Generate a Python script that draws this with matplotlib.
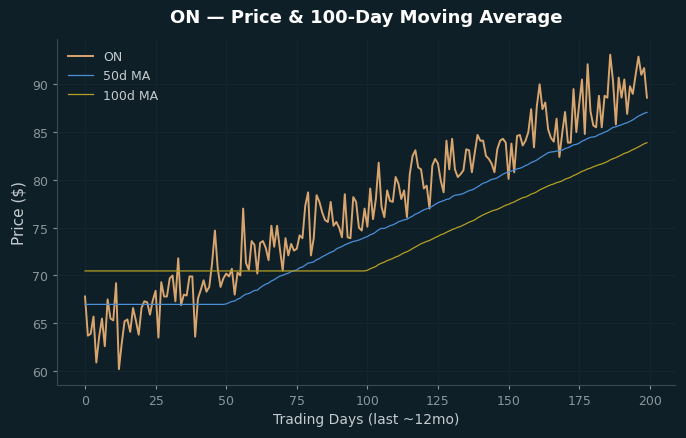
import numpy as np
import pandas as pd
from matplotlib import pyplot as plt

"""Data (read off the reference)
"""
TICKER = 'ON'
price = [
    67.8, 63.7, 63.9, 65.7, 60.9, 63.6, 65.5, 62.6, 67.5, 65.5,
    65.3, 69.2, 60.2, 62.9, 65.2, 65.4, 64.1, 66.6, 65.3, 63.8,
    66.6, 67.3, 67.2, 65.9, 67.4, 68.4, 63.5, 69.3, 67.8, 67.8,
    69.7, 70.0, 67.3, 71.8, 66.9, 68.0, 67.9, 69.9, 69.9, 63.6,
    67.6, 68.5, 69.5, 68.3, 68.8, 71.3, 74.7, 70.7, 68.8, 69.7,
    70.2, 69.9, 70.7, 68.0, 70.3, 70.0, 77.0, 71.3, 70.6, 73.6,
    73.2, 70.2, 73.4, 73.6, 72.9, 71.6, 75.2, 73.0, 75.2, 72.8,
    70.5, 73.9, 72.1, 73.3, 72.6, 72.8, 74.2, 73.9, 77.3, 78.7,
    72.1, 73.9, 78.4, 77.7, 76.6, 75.8, 75.6, 77.7, 75.2, 75.6,
    75.0, 74.0, 78.5, 74.0, 73.9, 78.2, 77.7, 75.0, 74.7, 77.0,
    75.1, 79.1, 75.9, 78.0, 81.8, 77.2, 76.1, 78.9, 77.8, 77.7,
    80.3, 79.6, 78.0, 78.9, 76.1, 80.6, 82.5, 83.1, 81.3, 81.1,
    79.1, 79.4, 77.0, 81.5, 82.2, 81.7, 79.9, 78.7, 84.1, 81.1,
    84.3, 81.1, 80.3, 80.6, 81.0, 83.2, 83.1, 80.8, 82.8, 84.7,
    84.1, 84.1, 82.5, 82.2, 81.7, 80.8, 83.2, 84.1, 84.3, 83.9,
    80.1, 83.8, 80.8, 84.6, 84.7, 83.6, 84.1, 85.0, 87.4, 83.4,
    87.7, 90.0, 87.4, 88.1, 85.3, 84.4, 84.0, 86.4, 82.4, 84.9,
    87.1, 83.9, 83.9, 89.5, 85.0, 87.9, 90.5, 84.8, 92.1, 87.2,
    85.7, 85.5, 88.8, 85.5, 88.8, 88.6, 93.1, 90.3, 85.8, 90.7,
    88.6, 90.5, 86.9, 89.8, 89.0, 91.0, 92.9, 91.0, 91.7, 88.6,
]
ma_windows = [50, 100]

"""Style
"""
BG = '#0f1f27'
TXT = '#c4ccd0'
TICK = '#8a969b'
SPINE = '#3b4a50'
c_price = '#d8a56f'
c_ma = {50: '#4a8fd8', 100: '#b3a024'}

df = pd.DataFrame({'price': price})
for w in ma_windows:
    df['ma%d' % w] = df.price.rolling(w).mean().bfill()

f, ax = plt.subplots(figsize=(6.86, 4.39), dpi=100)
f.patch.set_facecolor(BG)
ax.set_facecolor(BG)
f.subplots_adjust(left=0.083, right=0.984, top=0.909, bottom=0.121)

ax.plot(df.index, df.price, color=c_price, lw=1.4, label=TICKER)
for w in ma_windows:
    ax.plot(df.index, df['ma%d' % w], color=c_ma[w], lw=0.9, label='%dd MA' % w)

ax.grid(True, color='#16272f', lw=0.6)
ax.set_axisbelow(True)
for s in ['top', 'right']:
    ax.spines[s].set_visible(False)
for s in ['left', 'bottom']:
    ax.spines[s].set_color(SPINE)
ax.tick_params(colors=TICK, labelsize=9, length=3)
ax.set_xticks([0, 25, 50, 75, 100, 125, 150, 175, 200])

ax.set_xlabel('Trading Days (last ~12mo)', color=TXT, fontsize=10)
ax.set_ylabel('Price ($)', color=TXT, fontsize=11)
ax.set_title('ON — Price & 100-Day Moving Average', color='white',
             fontsize=13, fontweight='bold', pad=12)

leg = ax.legend(loc='upper left', frameon=False, fontsize=9)
for t in leg.get_texts():
    t.set_color(TXT)

f.savefig('out.png', facecolor=BG)
